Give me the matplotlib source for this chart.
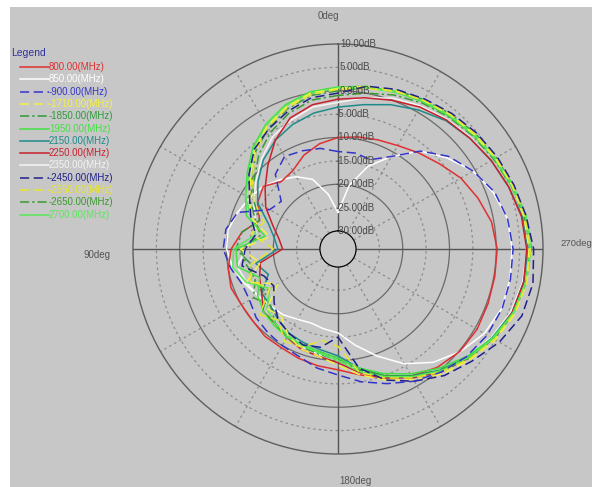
import numpy as np
import matplotlib
matplotlib.use("Agg")
import matplotlib.pyplot as plt
from matplotlib.lines import Line2D
from matplotlib.patches import Rectangle

plt.rcParams['font.family'] = ['Liberation Sans', 'DejaVu Sans']

W, H = 592, 487

# ---------------- data ----------------
angles_deg = [0, 10, 20, 30, 40, 50, 60, 70, 80, 90, 100, 110, 120, 130, 140, 150, 160, 170,
              180, 190, 200, 210, 220, 230, 240, 250, 260, 270, 280, 290, 300, 310, 320, 330, 340, 350]

labels = ["800.00(MHz)", "850.00(MHz)", "900.00(MHz)", "1710.00(MHz)", "1850.00(MHz)",
          "1950.00(MHz)", "2150.00(MHz)", "2250.00(MHz)", "2350.00(MHz)", "2450.00(MHz)",
          "2550.00(MHz)", "2650.00(MHz)", "2700.00(MHz)"]

gain_800 = [-10, -11, -12.5, -14.5, -15, -13, -14, -16, -13, -11, -10, -9.5, -10, -10, -9.5, -9.5, -9, -8.5,
            -8, -6.5, -4.5, -2.5, -0.8, 0.2, 0.5, 0.3, 0.2, 0.2, -0.5, -2, -3.5, -5.5, -7, -8.3, -9, -9.5]
gain_850 = [-26, -22, -18, -16, -14.5, -13, -12, -11, -10, -10, -11, -12.5, -14, -15, -15.5, -16.5, -17, -16.5,
            -15.9, -13, -9.5, -5.5, -2.2, 0.3, 2.3, 3.4, 3.5, 3.4, 3, 1.5, -0.5, -3.5, -6.5, -11, -15, -20]
gain_900 = [-13, -12, -11.5, -11, -13, -18, -17, -11, -9.5, -9.3, -10.5, -12, -12, -11, -10.5, -10, -9.4, -8,
            -6.9, -5, -3.2, -1.2, 0.5, 2, 3, 3.5, 3.6, 3.6, 3, 1.8, -0.5, -3, -6.5, -11, -13.5, -13]
gain_1710 = [0.5, 0, -1.5, -3.5, -6, -9.5, -12, -14, -19, -13, -17, -13, -19, -14, -15, -12.5, -11, -10.5,
             -9, -6.5, -4, -1.5, 1, 3, 5, 6.5, 7.2, 7, 6.5, 5.8, 5, 4.2, 3.6, 2.8, 2.2, 1.5]
gain_1850 = [0, -0.5, -2, -4, -6.5, -10, -13, -16, -13, -12, -15, -14, -16, -13, -13, -12, -11.5, -11,
             -10, -7.5, -5, -2.5, 0, 2.3, 4.5, 6, 7, 7.5, 7, 6, 5.2, 4.5, 3.8, 3, 2.3, 1.2]
gain_1950 = [0.8, 0.3, -1, -3, -5.5, -8.5, -11, -13, -18, -12, -12, -16, -14, -13, -12.5, -12, -12, -11.5,
             -10.5, -8, -5.5, -3, -0.5, 2, 4.3, 6, 7, 7.2, 6.8, 5.6, 4.8, 4, 3.2, 2.5, 2, 1.5]
gain_2150 = [-3.5, -4.3, -5.5, -7, -9, -11.5, -14, -18, -20, -21, -16, -18, -15, -15, -14, -13, -12.5, -12,
             -11, -8, -5, -2.5, 0, 2.2, 4.2, 5.8, 6.5, 6.8, 6.2, 5, 4, 3, 2, 0.5, -1, -2.5]
gain_2250 = [-1.8, -2.5, -4, -7, -10.5, -13.5, -16, -19, -21, -22, -17, -16, -15, -13, -13, -12, -11, -10.5,
             -9.5, -7, -4.5, -2, 0.5, 2.5, 4.5, 5.8, 6.5, 6.5, 6, 5, 4, 3, 2.2, 1.2, 0, -1]
gain_2350 = [-2.5, -3, -4.5, -6, -8.5, -11, -13, -15, -16, -14, -12, -13, -14, -13, -12.5, -12, -11.5, -11,
             -10, -7.5, -5, -2.5, 0, 2, 4, 5.5, 6.3, 6.5, 6, 5, 4, 3.2, 2.4, 1.5, 0.5, -1]
gain_2450 = [-0.5, -1, -2.5, -4.2, -6, -9, -12, -14, -16, -14, -13, -17, -18, -16, -14, -13, -12, -12.5,
             -15, -8, -4, -1.2, 1.5, 3.5, 6, 8, 8.5, 8, 7, 6.2, 5.5, 4.8, 4, 3.2, 2.5, 1.5]
gain_2550 = [0.3, -0.3, -1.8, -3.8, -6.5, -10, -13, -17, -15, -20, -15, -14, -17, -12, -14, -11, -11.5, -14,
             -13, -7, -4.5, -2, 0.5, 2.8, 4.8, 6.3, 7.2, 7.3, 6.8, 6, 5.2, 4.5, 3.8, 3, 2, 1]
gain_2650 = [-1, -1.5, -3, -5, -7.5, -10.5, -12, -15, -17, -13, -14, -15, -13, -15, -13, -12, -12, -11.5,
             -10.5, -7.8, -5, -2.2, 0.3, 2.6, 4.6, 6.2, 7, 7.2, 6.6, 5.6, 4.6, 3.8, 3, 2.2, 1.2, 0]
gain_2700 = [0.6, 0, -1.2, -3.2, -5.8, -9, -11, -14, -16, -11.5, -11, -13, -17, -14, -13, -12.5, -11.8, -11.2,
             -10, -7.2, -4.8, -2.3, 0.2, 2.4, 4.5, 6.1, 7, 7.4, 7, 6, 5, 4.3, 3.5, 2.7, 1.8, 1.2]

series = [gain_800, gain_850, gain_900, gain_1710, gain_1850, gain_1950, gain_2150,
          gain_2250, gain_2350, gain_2450, gain_2550, gain_2650, gain_2700]

ring_levels = [10, 5, 0, -5, -10, -15, -20, -25, -30]
ring_labels = ["10.00dB", "5.00dB", "0.00dB", "-5.00dB", "-10.00dB", "-15.00dB",
               "-20.00dB", "-25.00dB", "-30.00dB"]

# ---------------- styles ----------------
colors = ["#e03030", "#ffffff", "#3434c8", "#f2f244", "#2f9a3a", "#44e044", "#1f8a8a",
          "#c8202c", "#f4f4f4", "#202088", "#e6e630", "#3a9a30", "#58e858"]
dash = [None, None, (6, 3), (6, 3), (6, 2, 1.5, 2), None, None,
        None, None, (6, 3), (6, 3), (6, 2, 1.5, 2), None]
draw_order = [8, 1, 0, 6, 7, 4, 11, 5, 12, 3, 10, 9, 2]

BG = "#c7c7c7"

fig = plt.figure(figsize=(W / 100, H / 100), dpi=100, facecolor="white")
fig.patches.append(Rectangle((10 / W, 0), 1, 1 - 7 / H, transform=fig.transFigure,
                             facecolor=BG, edgecolor="none", zorder=-10))

cx, cy, R = 338, 249, 205
ax = fig.add_axes([(cx - R) / W, 1 - (cy + R) / H, 2 * R / W, 2 * R / H], projection="polar")
ax.set_facecolor("none")
ax.set_theta_zero_location("N")
ax.set_theta_direction(1)
rmin, rmax = -30, 10
ax.set_ylim(rmin, rmax)
ax.set_rorigin(rmin - 18 / (187 / 40))
ax.grid(False)
ax.set_xticks([])
ax.set_yticks([])
for name, sp in ax.spines.items():
    if name == "polar":
        sp.set_color("#5e5e5e")
        sp.set_linewidth(1.0)
    else:
        sp.set_visible(False)

th = np.linspace(0, 2 * np.pi, 721)
for lv in ring_levels[1:]:
    solid = (lv % 10 == 0)
    if solid:
        ax.plot(th, np.full_like(th, lv), color="#6a6a6a", lw=0.9, zorder=1)
    else:
        ax.plot(th, np.full_like(th, lv), color="#8c8c8c", lw=0.9, dashes=(2, 2.5), zorder=1)

for a in range(0, 360, 30):
    t = np.deg2rad(a)
    if a % 90 == 0:
        ax.plot([t, t], [rmin, rmax], color="#555555", lw=1.0, zorder=1)
    else:
        ax.plot([t, t], [rmin, rmax], color="#8c8c8c", lw=0.9, dashes=(2, 2.5), zorder=1)

theta = np.deg2rad(np.array(angles_deg + [angles_deg[0] + 360]))
for i in draw_order:
    vals = np.array(series[i] + [series[i][0]])
    kw = dict(color=colors[i], lw=1.1, zorder=3)
    if dash[i] is not None:
        kw["dashes"] = dash[i]
    ax.plot(theta, vals, **kw)

# ring labels
ppd = 187 / 40
for lv, lab in zip(ring_levels, ring_labels):
    r = 18 + (lv - rmin) * ppd
    y = cy - r
    x = 340 if lv >= 0 else 336
    fig.text(x / W, 1 - y / H, lab, fontsize=7, color="#4a4a4a", ha="left", va="center", zorder=5)

# angle labels
tc = "#555555"
fig.text(328 / W, 1 - 16 / H, "0deg", fontsize=7, color=tc, ha="center", va="center")
fig.text(97 / W, 1 - 255 / H, "90deg", fontsize=7, color=tc, ha="center", va="center")
fig.text(355 / W, 1 - 481 / H, "180deg", fontsize=7, color=tc, ha="center", va="center")
fig.text(560 / W, 1 - 244 / H, "270deg", fontsize=6.8, color=tc, ha="left", va="center")

# legend
fig.text(11 / W, 1 - 53 / H, "Legend", fontsize=7.5, color="#3030a0", ha="left", va="center")
y0, dy = 67, 12.3
for k in range(len(labels)):
    y = y0 + k * dy
    kw = dict(color=colors[k], lw=1.1, transform=fig.transFigure)
    if dash[k] is not None:
        kw["dashes"] = dash[k]
    fig.lines.append(Line2D([20 / W, 49 / W], [1 - y / H, 1 - y / H], **kw))
    txt = labels[k]
    if dash[k] is not None:
        txt = "-" + txt
    fig.text(49 / W, 1 - y / H, txt, fontsize=7, color=colors[k], ha="left", va="center")

fig.savefig("out.png", dpi=100, facecolor="white")
